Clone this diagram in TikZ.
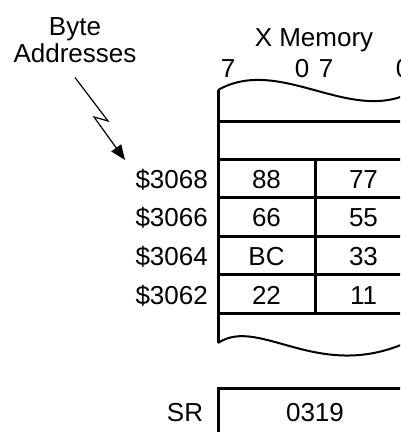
\documentclass[tikz,border=0pt]{standalone}
\usepackage{fontspec}
\setmainfont{Liberation Sans}
\usetikzlibrary{arrows.meta}
\tikzset{
  memtext/.style={font=\fontsize{26}{30}\selectfont,inner sep=0pt,
    text height=18.6pt,text depth=0pt},
  memline/.style={line width=3pt},
  waveline/.style={line width=2pt},
  bolt/.style={line width=1.2pt,-{Triangle[length=15pt,width=12pt]}}
}
\begin{document}
\begin{tikzpicture}[x=1pt,y=-1pt]
  \useasboundingbox (0,0) rectangle (400,432);
  \clip (0,0) rectangle (400,432);

  % headings
  \node[memtext] (byte) at (75,26) {Byte};
  \node[memtext] (addr) at (75,53) {Addresses};
  \node[memtext] (xmem) at (314,37) {X Memory};
  \node[memtext] (hib7) at (228,68) {7};
  \node[memtext] (hib0) at (302,68) {0};
  \node[memtext] (lob7) at (326,68) {7};
  \node[memtext] (lob0) at (403,68) {0};

  % torn memory block
  \draw[waveline] (218,90) .. controls (280,55) and (350,125) .. (412,92);
  \draw[waveline] (218,343) .. controls (260,315) and (320,385) .. (412,340);
  \draw[memline] (218,90) -- (218,343);
  \draw[memline] (412,92) -- (412,340);
  \foreach \yy in {121,159,197.6,236.2,274.8,313.4}
    \draw[memline] (218,\yy) -- (412,\yy);
  \draw[memline] (315,159) -- (315,313.4);

  \foreach \addr/\hi/\lo [count=\r from 0] in
      {3068/88/77,3066/66/55,3064/BC/33,3062/22/11} {
    \pgfmathsetmacro\ymid{159+38.6*\r+20}
    \node[memtext,anchor=east] (a\addr) at (208,\ymid) {\$\addr};
    \node[memtext] (hi\addr) at (266.5,\ymid) {\hi};
    \node[memtext] (lo\addr) at (363.5,\ymid) {\lo};
  }

  % arrow to the addresses
  \coordinate (boltA) at (108,121);
  \coordinate (boltB) at (94,117);
  \coordinate (tip) at (125,160);
  \draw[bolt] ([yshift=-15pt]addr.south) -- (boltA) -- (boltB) -- (tip);

  % status register
  \draw[memline] (218,460) -- (218,388) -- (412,388) -- (412,460);
  \node[memtext] (srname) at (185,412) {SR};
  \node[memtext] (srval) at (315,412) {0319};
\end{tikzpicture}
\end{document}
